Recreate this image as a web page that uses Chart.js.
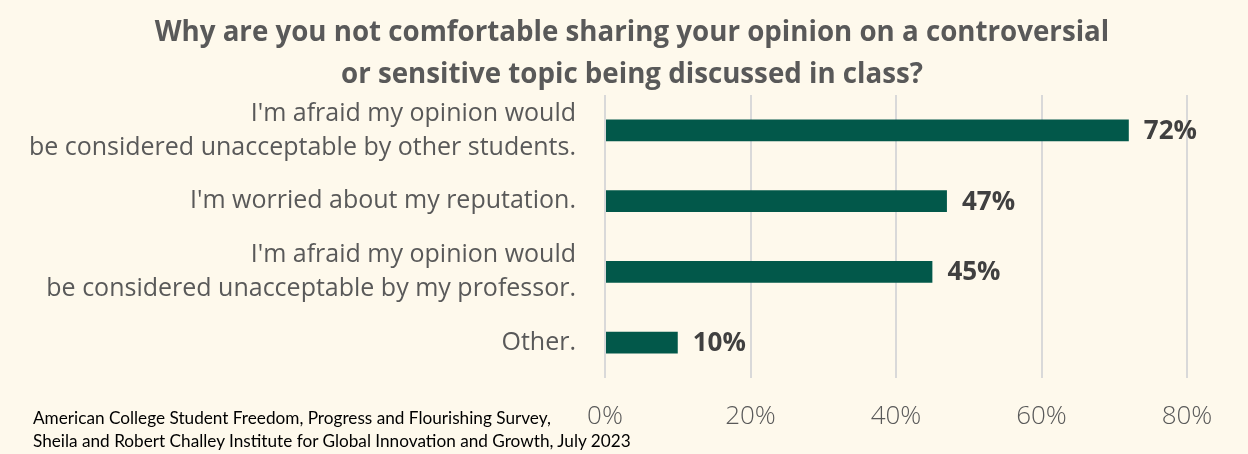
<!DOCTYPE html>
<html>
<head>
<meta charset="utf-8">
<script src="https://cdn.jsdelivr.net/npm/chart.js@4"></script>
<style>
  html, body { margin: 0; padding: 0; background: #FEF9EC; }
  #wrap { position: relative; width: 1248px; height: 454px; }
  #title {
    position: absolute; left: 632px; top: 9px; transform: translateX(-50%);
    white-space: nowrap; text-align: center;
    font-family: 'Open Sans', sans-serif; font-weight: bold; font-size: 27.7px; line-height: 42px;
    color: #595959;
  }
  #source {
    position: absolute; left: 33px; top: 406px; white-space: nowrap;
    font-family: Lato, sans-serif; font-size: 17.2px; line-height: 23px; color: #000;
  }
</style>
</head>
<body>
<div id="wrap">
  <canvas id="chart" width="1248" height="454"></canvas>
  <div id="title">Why are you not comfortable sharing your opinion on a controversial<br>or sensitive topic being discussed in class?</div>
  <div id="source">American College Student Freedom, Progress and Flourishing Survey,<br>Sheila and Robert Challey Institute for Global Innovation and Growth, July 2023</div>
</div>
<script>
// --- data ---
const reasons = [
  ["I'm afraid my opinion would", "be considered unacceptable by other students."],
  "I'm worried about my reputation.",
  ["I'm afraid my opinion would", "be considered unacceptable by my professor."],
  "Other."
];
const shares = [72, 47, 45, 10];
const pctTicks = [0, 20, 40, 60, 80];

const FONT = "'Open Sans', 'Noto Sans', sans-serif";

// percent label to the right of each bar
const barLabels = {
  id: 'barLabels',
  afterDatasetsDraw(chart) {
    const ctx = chart.ctx;
    const meta = chart.getDatasetMeta(0);
    ctx.save();
    ctx.font = 'bold 26px ' + FONT;
    ctx.fillStyle = '#404040';
    ctx.textBaseline = 'middle';
    meta.data.forEach((bar, i) => {
      ctx.fillText(shares[i] + '%', bar.x + 15, bar.y + 1);
    });
    ctx.restore();
  }
};

new Chart(document.getElementById('chart').getContext('2d'), {
  type: 'bar',
  data: {
    labels: reasons,
    datasets: [{
      data: shares,
      backgroundColor: '#02584A',
      barPercentage: 0.31,
      categoryPercentage: 1
    }]
  },
  options: {
    indexAxis: 'y',
    responsive: false,
    animation: false,
    layout: { padding: { left: 0, right: 61, top: 95, bottom: 0 } },
    plugins: {
      legend: { display: false },
      tooltip: { enabled: false },
      title: { display: false }
    },
    scales: {
      x: {
        min: 0, max: 80,
        afterBuildTicks(scale) { scale.ticks = pctTicks.map(v => ({ value: v })); },
        afterFit(scale) { scale.height = 76; },
        ticks: {
          callback: v => v + '%',
          color: '#595959',
          font: { family: FONT, size: 26, weight: '300' },
          padding: 23
        },
        grid: { color: '#D9D9D9', lineWidth: 2, drawTicks: false },
        border: { display: false }
      },
      y: {
        afterFit(scale) { scale.width = 605; },
        ticks: {
          autoSkip: false,
          color: '#595959',
          font: { family: FONT, size: 25, lineHeight: 1.36 },
          padding: 29
        },
        grid: { display: false, drawTicks: false },
        border: { display: false }
      }
    }
  },
  plugins: [barLabels]
});
</script>
</body>
</html>
